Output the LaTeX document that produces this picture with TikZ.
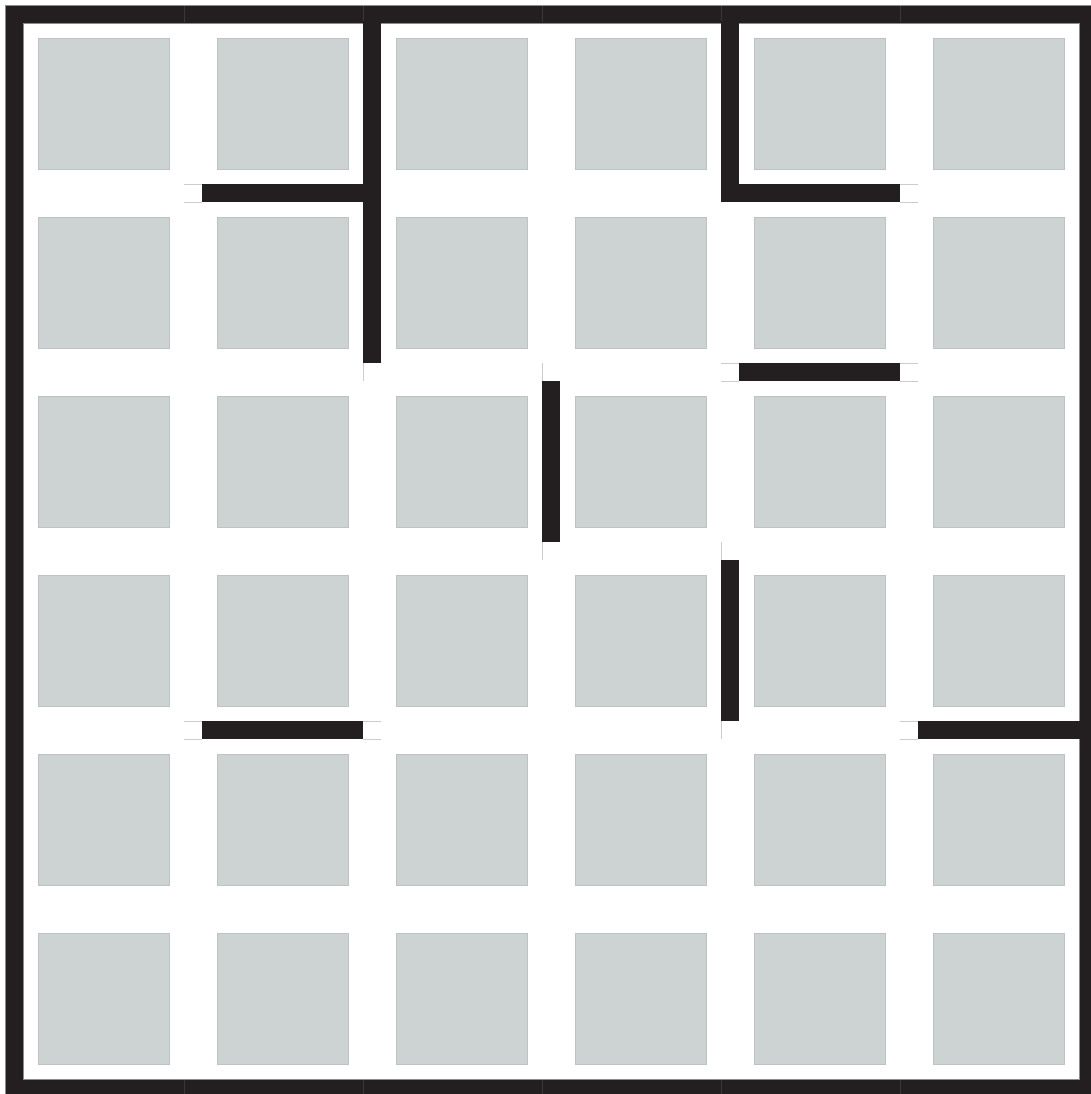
\documentclass[tikz,border=0pt]{standalone}
\usepackage{tikz}
\definecolor{wallblack}{RGB}{35,31,32}
\definecolor{tilegray}{RGB}{205,211,211}

\begin{document}
\begin{tikzpicture}[x=1.79cm,y=1.79cm,
tile/.style={fill=tilegray,draw=tilegray!92!black,line width=0.1pt},
wall/.style={fill=wallblack},
frame/.style={fill=wallblack,draw=black!45,line width=0.2pt},
stubline/.style={draw=black!20,line width=0.25pt},
seam/.style={draw=black!78,line width=0.3pt}]
\useasboundingbox (-0.0782,-0.0335) rectangle (6.0112,6.0782);
% tiles
\foreach \i in {0,...,5}
  \foreach \j in {0,...,5}
    \path[tile] (\i+0.134,\j+0.134) rectangle ++(0.732,0.732);
% outer frame
\path[frame,even odd rule] (-0.05,-0.05) rectangle (6.05,6.05) (0.05,0.05) rectangle (5.95,5.95);
\foreach \k in {1,...,5} {
  \draw[seam] (\k-0.05,5.955) -- (\k-0.05,6.045);
  \draw[seam] (\k-0.05,-0.045) -- (\k-0.05,0.045);
}
% wall ends
\draw[stubline] (1.95,3.95) -- (1.95,4.05);
\draw[stubline] (0.95,5.05) -- (1.05,5.05) (0.95,4.95) -- (1.05,4.95);
\draw[stubline] (4.95,5.05) -- (5.05,5.05) (4.95,4.95) -- (5.05,4.95);
\draw[stubline] (3.95,4.05) -- (4.05,4.05) (3.95,3.95) -- (4.05,3.95);
\draw[stubline] (4.95,4.05) -- (5.05,4.05) (4.95,3.95) -- (5.05,3.95);
\draw[stubline] (2.95,3.95) -- (2.95,4.05) (2.95,2.95) -- (2.95,3.05);
\draw[stubline] (3.95,2.95) -- (3.95,3.05) (3.95,1.95) -- (3.95,2.05);
\draw[stubline] (0.95,2.05) -- (1.05,2.05) (0.95,1.95) -- (1.05,1.95);
\draw[stubline] (1.95,2.05) -- (2.05,2.05) (1.95,1.95) -- (2.05,1.95);
\draw[stubline] (4.95,2.05) -- (5.05,2.05) (4.95,1.95) -- (5.05,1.95);
% inner walls
\path[wall] (1.95,4.05) rectangle (2.05,5.96);
\path[wall] (1.05,4.95) rectangle (1.96,5.05);
\path[wall] (3.95,4.95) rectangle (4.05,5.96);
\path[wall] (4.04,4.95) rectangle (4.95,5.05);
\path[wall] (4.05,3.95) rectangle (4.95,4.05);
\path[wall] (2.95,3.05) rectangle (3.05,3.95);
\path[wall] (3.95,2.05) rectangle (4.05,2.95);
\path[wall] (1.05,1.95) rectangle (1.95,2.05);
\path[wall] (5.05,1.95) rectangle (5.96,2.05);
\end{tikzpicture}
\end{document}
